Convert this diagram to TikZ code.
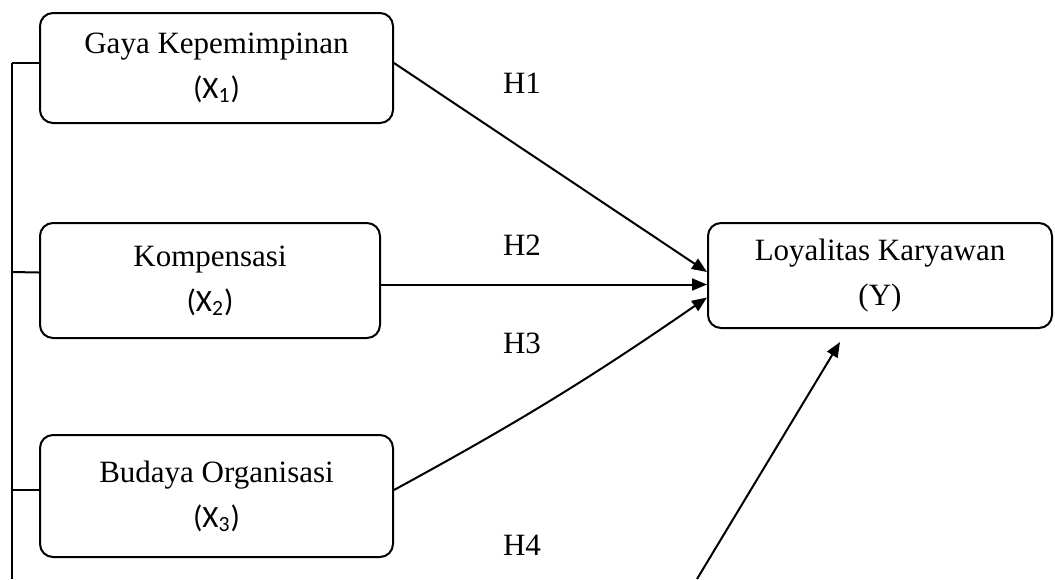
\documentclass[tikz,border=0pt]{standalone}
\usepackage{fontspec}
\setmainfont{Liberation Serif}
\newfontfamily\calibrifont{Carlito}
\usetikzlibrary{arrows.meta}

\newcommand{\varx}[1]{{\calibrifont (X\textsubscript{#1})}}

\tikzset{
    varbox/.style={draw, line width=1pt, rounded corners=6.5pt, align=center,
        font=\fontsize{15.5}{22.5}\selectfont},
    link/.style={line width=1pt},
    arr/.style={line width=1pt, -{Triangle[length=7.5pt,width=6pt]}},
    hyp/.style={font=\fontsize{15.5}{18}\selectfont}
}

\begin{document}
\begin{tikzpicture}[x=0.5pt, y=-0.5pt]
        \useasboundingbox (0,0) rectangle (1055,579);

        % Independent variables
        \node[varbox, minimum width=176.5pt, minimum height=55pt] (gaya) at (216.5,68)
            {Gaya Kepemimpinan \\ \varx{1}};
        \node[varbox, minimum width=170pt, minimum height=57.5pt] (komp) at (210,280.5)
            {Kompensasi \\ \varx{2}};
        \node[varbox, minimum width=176.5pt, minimum height=61pt] (budaya) at (216.5,496)
            {Budaya Organisasi \\ \varx{3}};

        % Dependent variable
        \node[varbox, minimum width=172pt, minimum height=52.5pt] (loyal) at (880,275.5)
            {Loyalitas Karyawan \\ (Y)};

        % Left bracket joining X1, X2, X3
        \coordinate (top) at (12,63);
        \coordinate (bottom) at (12,579);
        \draw[link] (top) -- (bottom);
        \draw[link] (top) -- ([yshift=2.5pt]gaya.west);
        \draw[link] (12,272) -- ([yshift=4pt]komp.west);
        \draw[link] (12,490) -- ([yshift=3pt]budaya.west);

        % Hypotheses
        \draw[arr] ([yshift=2.5pt]gaya.east) -- ([yshift=1.75pt]loyal.west);
        \draw[arr] ([yshift=-2pt]komp.east) -- ([yshift=-2pt]komp.east -| loyal.west);
        \draw[arr] ([yshift=3pt]budaya.east) to[bend right=3] ([yshift=-11pt]loyal.west);

        \coordinate (h4start) at (697,579);
        \coordinate (h4end) at (840,342);
        \draw[arr] (h4start) -- (h4end);

        % Labels
        \node[hyp] (h1) at (522,83) {H1};
        \node[hyp] (h2) at (522,245) {H2};
        \node[hyp] (h3) at (522,343) {H3};
        \node[hyp] (h4) at (522,545) {H4};
    \end{tikzpicture}
\end{document}
